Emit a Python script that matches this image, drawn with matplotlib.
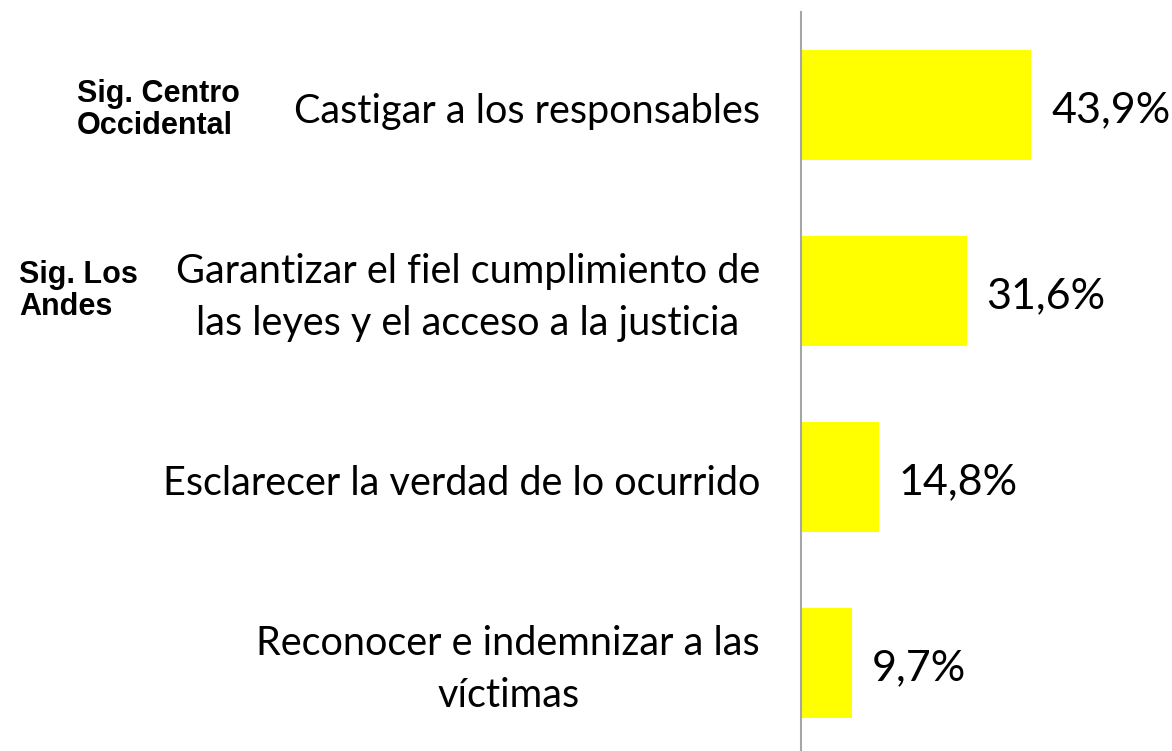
import matplotlib
matplotlib.use("Agg")
from matplotlib import pyplot as plt
from matplotlib.transforms import offset_copy

categorias = [
    "Castigar a los responsables",
    "Garantizar el fiel cumplimiento de\nlas leyes y el acceso a la justicia",
    "Esclarecer la verdad de lo ocurrido",
    "Reconocer e indemnizar a las\nvíctimas",
]
valores = [43.9, 31.6, 14.8, 9.7]
etiquetas = ["43,9%", "31,6%", "14,8%", "9,7%"]
notas = ["Sig. Centro\nOccidental", "Sig. Los\nAndes"]

fig = plt.figure(figsize=(11.72, 7.51), dpi=100)
# axes: left edge is the vertical axis line
ax = fig.add_axes([801 / 1172, 0, 262 / 1172, 1 - 12 / 751])

pos = list(range(len(valores)))
ax.barh(pos, valores, height=0.59, color="#FFFF00", zorder=2)
ax.set_xlim(0, 50)
ax.set_ylim(3.473, -0.5)

for s in ["top", "right", "bottom"]:
    ax.spines[s].set_visible(False)
ax.spines["left"].set_color("#A6A6A6")
ax.spines["left"].set_linewidth(1.5)
ax.set_xticks([])
ax.set_yticks([])

# category labels to the left of the axis
lab_tr = offset_copy(ax.get_yaxis_transform(), fig=fig, x=-41, y=-6, units="dots")
for p, c in zip(pos, categorias):
    ax.text(0, p, c, transform=lab_tr, ha="right", va="center",
            multialignment="center", fontsize=28.5, family="Lato",
            color="#000000", linespacing=1.5, clip_on=False)

# value labels after each bar
for p, v, e in zip(pos, valores, etiquetas):
    tr = offset_copy(ax.transData, fig=fig, x=20, y=-5, units="dots")
    ax.text(v, p, e, transform=tr, ha="left", va="center",
            fontsize=31, family="Lato", color="#000000", clip_on=False)

# bold side notes
fig.text(77 / 1172, 1 - 110 / 751, notas[0], ha="left", va="center",
         fontsize=22, fontweight="bold", family="Liberation Sans", linespacing=1.12)
fig.text(19 / 1172, 1 - 291 / 751, notas[1], ha="left", va="center",
         fontsize=22, fontweight="bold", family="Liberation Sans", linespacing=1.12)

fig.savefig("out.png", dpi=100, facecolor="white")
